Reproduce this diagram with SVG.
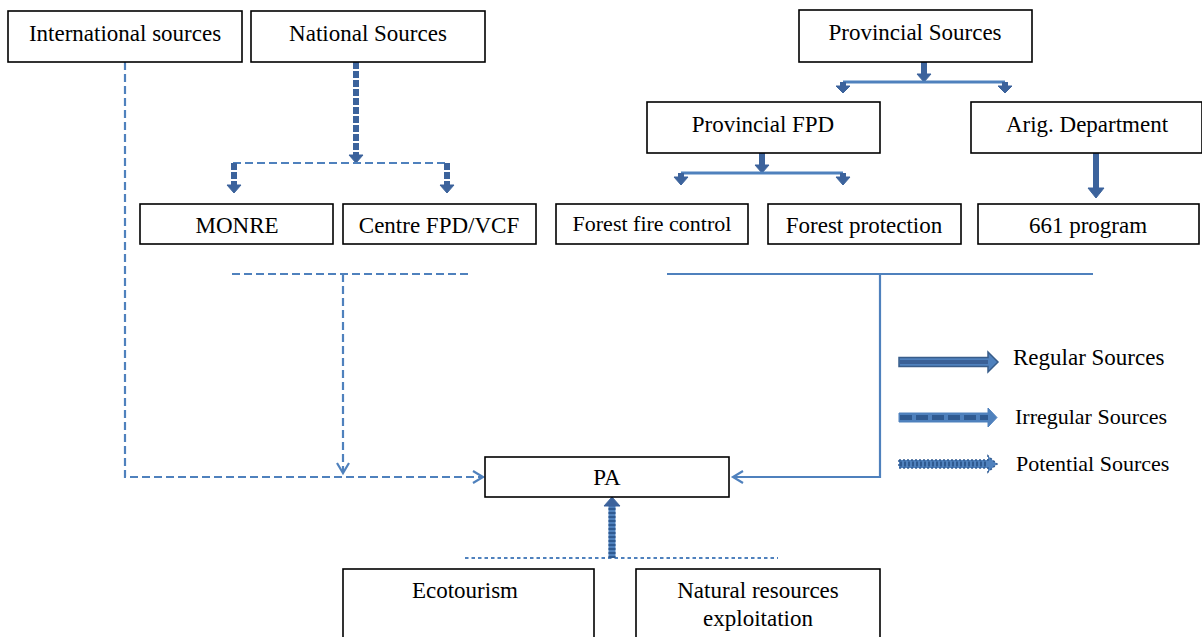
<svg xmlns="http://www.w3.org/2000/svg" width="1202" height="637" viewBox="0 0 1202 637">
<style>
.box{fill:#fff;stroke:#000;stroke-width:1.6}
.t{font-family:"Liberation Serif","Times New Roman",serif;font-size:23px;fill:#000;text-anchor:middle}
.lg{font-family:"Liberation Serif","Times New Roman",serif;font-size:23px;fill:#000}
.thin{fill:none;stroke:#4F81BD;stroke-width:2.2}
.dash{stroke-dasharray:8 4}
.dot{stroke-dasharray:3.5 3}
.stem{fill:none;stroke:#3C639C;stroke-width:6}
.dstem{fill:none;stroke:#3C639C;stroke-width:6;stroke-dasharray:7 2}
.head{fill:#3C639C;stroke:#3C639C;stroke-width:1}
.open{fill:none;stroke:#4F81BD;stroke-width:2.2}
</style>
<rect width="1202" height="637" fill="#fff"/>

<g id="connectors">
  <!-- Provincial Sources split -->
  <line class="stem" x1="924" y1="62" x2="924" y2="75"/>
  <polygon class="head" points="917,74 931,74 924,82"/>
  <line x1="843" y1="82" x2="1005" y2="82" stroke="#4F81BD" stroke-width="3"/>
  <line class="stem" x1="843" y1="82" x2="843" y2="87"/>
  <polygon class="head" points="836,86 850,86 843,93"/>
  <line class="stem" x1="1005" y1="82" x2="1005" y2="87"/>
  <polygon class="head" points="998,86 1012,86 1005,93"/>

  <!-- Provincial FPD split -->
  <line class="stem" x1="762" y1="153" x2="762" y2="166"/>
  <polygon class="head" points="755,165 769,165 762,173"/>
  <line x1="681" y1="173" x2="843" y2="173" stroke="#4F81BD" stroke-width="3"/>
  <line class="stem" x1="681" y1="173" x2="681" y2="178"/>
  <polygon class="head" points="674,177 688,177 681,185"/>
  <line class="stem" x1="843" y1="173" x2="843" y2="178"/>
  <polygon class="head" points="836,177 850,177 843,185"/>

  <!-- Arig -> 661 -->
  <line class="stem" x1="1096" y1="153" x2="1096" y2="189"/>
  <polygon class="head" points="1088,188 1104,188 1096,198"/>

  <!-- National split (irregular) -->
  <line class="dstem" x1="356" y1="62" x2="356" y2="156"/>
  <polygon class="head" points="349,155 363,155 356,163"/>
  <line class="thin dash" x1="233" y1="163" x2="448" y2="163" stroke-width="3"/>
  <line class="dstem" x1="234" y1="163" x2="234" y2="186" stroke-width="5"/>
  <polygon class="head" points="227,185 241,185 234,193"/>
  <line class="dstem" x1="447" y1="163" x2="447" y2="186" stroke-width="5"/>
  <polygon class="head" points="440,185 454,185 447,193"/>

  <!-- National group to PA -->
  <line class="thin dash" x1="232" y1="274" x2="472" y2="274"/>
  <line class="thin dash" x1="343" y1="274" x2="343" y2="472"/>
  <polyline class="open" points="337,463 343,473 349,463"/>

  <!-- International to PA -->
  <polyline class="thin dash" points="125,62 125,477 482,477"/>
  <polyline class="open" points="473,471 483,477 473,483"/>

  <!-- Provincial group to PA -->
  <line class="thin" x1="667" y1="274" x2="1093" y2="274"/>
  <polyline class="thin" points="880,274 880,477 733,477"/>
  <polyline class="open" points="743,471 733,477 743,483"/>

  <!-- Potential to PA -->
  <line class="thin dot" x1="465" y1="558" x2="778" y2="558" stroke-width="3.5"/>
  <line x1="612" y1="558" x2="612" y2="505" stroke="#4F81BD" stroke-width="7"/>
  <line x1="612" y1="558" x2="612" y2="505" stroke="#2F5A91" stroke-width="7" stroke-dasharray="2 2"/>
  <polygon class="head" points="604,506 620,506 612,497"/>
</g>

<g id="international"><rect class="box" x="8" y="11" width="234" height="51"/><text class="t" x="125" y="41">International sources</text></g>
<g id="national"><rect class="box" x="251" y="11" width="234" height="51"/><text class="t" x="368" y="41">National Sources</text></g>
<g id="provincial"><rect class="box" x="799" y="10" width="233" height="52"/><text class="t" x="915" y="40">Provincial Sources</text></g>
<g id="provincial-fpd"><rect class="box" x="647" y="102" width="233" height="51"/><text class="t" x="763" y="132">Provincial FPD</text></g>
<g id="arig"><rect class="box" x="971" y="102" width="231" height="51"/><text class="t" x="1087" y="132">Arig. Department</text></g>
<g id="monre"><rect class="box" x="140" y="204" width="193" height="40"/><text class="t" x="237" y="233">MONRE</text></g>
<g id="centre"><rect class="box" x="343" y="204" width="193" height="40"/><text class="t" x="439" y="233">Centre FPD/VCF</text></g>
<g id="fire"><rect class="box" x="556" y="204" width="192" height="40"/><text class="t" x="652" y="231" style="font-size:22px">Forest fire control</text></g>
<g id="protection"><rect class="box" x="768" y="204" width="193" height="40"/><text class="t" x="864" y="233">Forest protection</text></g>
<g id="p661"><rect class="box" x="978" y="204" width="221" height="40"/><text class="t" x="1088" y="233">661 program</text></g>
<g id="pa"><rect class="box" x="485" y="457" width="244" height="40"/><text class="t" x="607" y="485">PA</text></g>
<g id="ecotourism"><rect class="box" x="343" y="569" width="251" height="80"/><text class="t" x="465" y="598">Ecotourism</text></g>
<g id="natural"><rect class="box" x="636" y="569" width="244" height="80"/><text class="t" x="758" y="598">Natural resources</text><text class="t" x="758" y="626">exploitation</text></g>

<g id="legend">
  <path d="M899,357.5 H988 V352 L998,362 L988,372 V366.5 H899 Z" fill="#4F81BD" stroke="#385D8A" stroke-width="1.5"/>
  <line x1="900" y1="362" x2="988" y2="362" stroke="#3A6096" stroke-width="4"/>
  <text class="lg" x="1013" y="365">Regular Sources</text>

  <path d="M899,413 H988 V408 L997,417.5 L988,427 V422 H899 Z" fill="#4F81BD" stroke="#4F81BD" stroke-width="1"/>
  <line x1="900" y1="417.5" x2="988" y2="417.5" stroke="#2F5A91" stroke-width="5" stroke-dasharray="12 4"/>
  <text class="lg" x="1015" y="424" style="font-size:22px">Irregular Sources</text>

  <path d="M899,460 H988 V456 L997,464 L988,472 V468 H899 Z" fill="#4F81BD" stroke="#2F5A91" stroke-width="1.5" stroke-dasharray="2 2"/>
  <line x1="900" y1="464" x2="988" y2="464" stroke="#2F5A91" stroke-width="5" stroke-dasharray="2 2"/>
  <text class="lg" x="1016" y="471" style="font-size:22px">Potential Sources</text>
</g>
</svg>
